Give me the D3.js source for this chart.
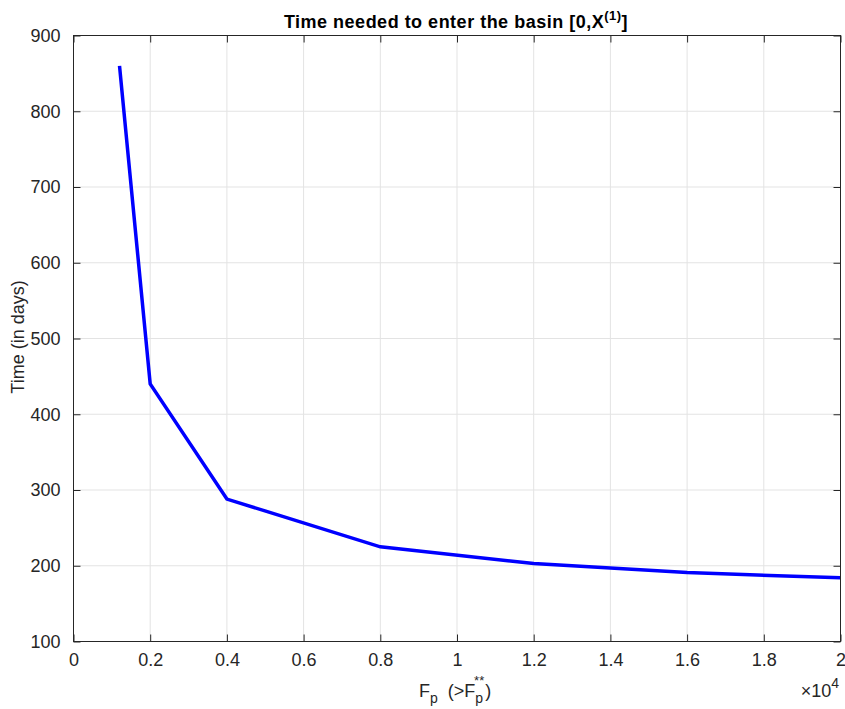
<!DOCTYPE html>
<html>
<head>
<meta charset="utf-8">
<script src="https://cdn.jsdelivr.net/npm/d3@7"></script>
<style>
  html, body { margin: 0; padding: 0; background: #fff; }
  svg { display: block; font-family: "Liberation Sans", Arial, Helvetica, sans-serif; }
</style>
</head>
<body>
<svg id="chart" width="845" height="709"></svg>
<script>
// Data
const fpValues = [1200, 2000, 4000, 8000, 12000, 16000, 20000];
const timeDays = [860, 440, 288, 225, 203, 191, 184];
const xTicks = [0, 0.2, 0.4, 0.6, 0.8, 1, 1.2, 1.4, 1.6, 1.8, 2];
const yTicks = [100, 200, 300, 400, 500, 600, 700, 800, 900];
const xTickLabels = ["0", "0.2", "0.4", "0.6", "0.8", "1", "1.2", "1.4", "1.6", "1.8", "2"];

const svg = d3.select("#chart");
const L = 73.5, R = 840.5, T = 35.5, B = 641.5;
const axisColor = "#262626";
const gridColor = "#e3e3e3";

const x = d3.scaleLinear().domain([0, 2]).range([L, R]);
const y = d3.scaleLinear().domain([100, 900]).range([B, T]);

svg.append("rect").attr("x", L).attr("y", T).attr("width", R - L).attr("height", B - T).attr("fill", "#fff");

// grid
const g = svg.append("g");
g.selectAll("line.gx").data(xTicks.slice(1, -1)).join("line")
  .attr("x1", d => x(d)).attr("x2", d => x(d)).attr("y1", T).attr("y2", B)
  .attr("stroke", gridColor).attr("stroke-width", 1);
g.selectAll("line.gy").data(yTicks.slice(1, -1)).join("line")
  .attr("y1", d => y(d)).attr("y2", d => y(d)).attr("x1", L).attr("x2", R)
  .attr("stroke", gridColor).attr("stroke-width", 1);

// line
const line = d3.line().x((d, i) => x(fpValues[i] / 1e4)).y(d => y(d));
svg.append("path").datum(timeDays)
  .attr("d", line).attr("fill", "none").attr("stroke", "#0000ff")
  .attr("stroke-width", 3.5).attr("stroke-linejoin", "miter");

// axes (ticks inside)
const tickLen = 7;
const xAxisB = d3.axisBottom(x).tickValues(xTicks).tickSizeInner(-tickLen).tickSizeOuter(0)
  .tickFormat((d, i) => xTickLabels[i]).tickPadding(12);
const xAxisT = d3.axisTop(x).tickValues(xTicks).tickSizeInner(-tickLen).tickSizeOuter(0).tickFormat("");
const yAxisL = d3.axisLeft(y).tickValues(yTicks).tickSizeInner(-tickLen).tickSizeOuter(0).tickPadding(13);
const yAxisR = d3.axisRight(y).tickValues(yTicks).tickSizeInner(-tickLen).tickSizeOuter(0).tickFormat("");

function style(sel) {
  sel.select(".domain").remove();
  sel.selectAll("line").attr("stroke", axisColor).attr("stroke-width", 1);
  sel.selectAll("text").attr("fill", axisColor).attr("font-size", 18)
    .attr("font-family", "'Liberation Sans', Arial, sans-serif");
}
svg.append("g").attr("transform", `translate(0,${B})`).call(xAxisB).call(style);
svg.append("g").attr("transform", `translate(0,${T})`).call(xAxisT).call(style);
svg.append("g").attr("transform", `translate(${L},0)`).call(yAxisL).call(style);
svg.append("g").attr("transform", `translate(${R},0)`).call(yAxisR).call(style);

// box
svg.append("rect").attr("x", L).attr("y", T).attr("width", R - L).attr("height", B - T)
  .attr("fill", "none").attr("stroke", axisColor).attr("stroke-width", 1);

// title
const title = svg.append("text").attr("x", 456).attr("y", 28)
  .attr("text-anchor", "middle").attr("font-weight", "bold").attr("font-size", 18)
  .attr("letter-spacing", 0.5).attr("fill", "#000");
title.append("tspan").text("Time needed to enter the basin [0,X");
title.append("tspan").attr("font-size", 13).attr("dy", -8).text("(1)");
title.append("tspan").attr("dy", 8).text("]");

// y label
svg.append("text").attr("transform", `translate(24,337) rotate(-90)`)
  .attr("text-anchor", "middle").attr("font-size", 18).attr("fill", axisColor)
  .text("Time (in days)");

// x label
const xl = svg.append("text").attr("x", 419).attr("y", 697)
  .attr("font-size", 18).attr("fill", axisColor).attr("xml:space", "preserve");
xl.append("tspan").text("F");
xl.append("tspan").attr("font-size", 14).attr("dy", 6).text("p");
xl.append("tspan").attr("dy", -6).text("  (>F");
xl.append("tspan").attr("font-size", 14).attr("dy", 6).text("p");
xl.append("tspan").attr("font-size", 13).attr("dy", -18).attr("dx", -9).text("**");
xl.append("tspan").attr("dy", 12).attr("dx", 1).text(")");

// exponent
const ex = svg.append("text").attr("x", 839).attr("y", 697).attr("text-anchor", "end")
  .attr("font-size", 18).attr("fill", axisColor);
ex.append("tspan").text("×10");
ex.append("tspan").attr("font-size", 14).attr("dy", -9).text("4");
</script>
</body>
</html>
